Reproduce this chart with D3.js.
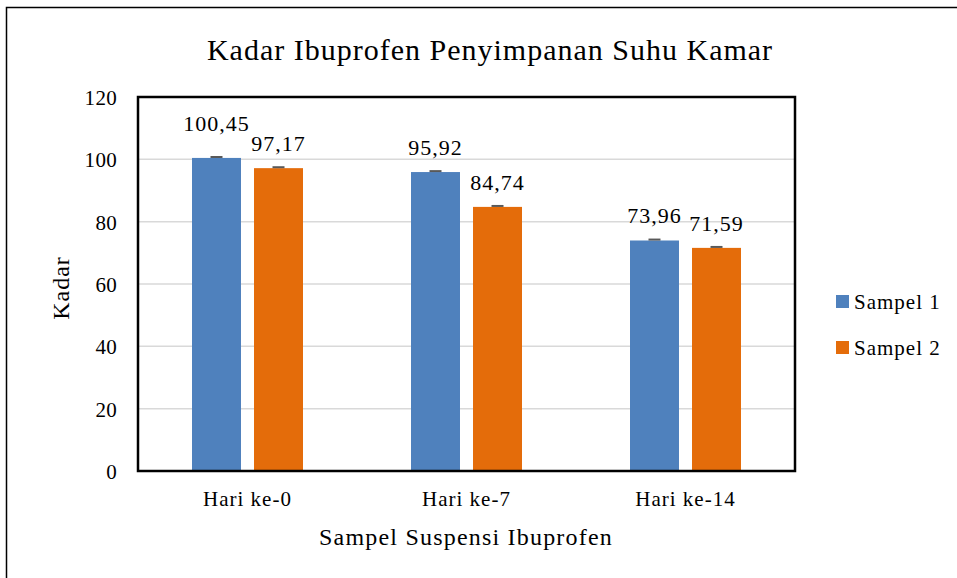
<!DOCTYPE html>
<html>
<head>
<meta charset="utf-8">
<script src="https://cdn.jsdelivr.net/npm/d3@7"></script>
<style>
  body { margin: 0; background: #fff; }
  text { font-family: "Liberation Serif", "Times New Roman", "DejaVu Serif", serif; fill: #000; }
</style>
</head>
<body>
<svg id="chart" width="957" height="578"></svg>
<script>
// data
const categories = ['Hari ke-0', 'Hari ke-7', 'Hari ke-14']
const seriesNames = ['Sampel 1', 'Sampel 2']
const sampel1 = [100.45, 95.92, 73.96]
const sampel2 = [97.17, 84.74, 71.59]
const err1 = [0.3, 0.3, 0.3]
const err2 = [0.3, 0.3, 0.3]
const yTicks = [0, 20, 40, 60, 80, 100, 120]
const colors = ['#4f81bd', '#e46c0a']

const svg = d3.select('#chart')

// outer frame
svg.append('rect')
  .attr('x', 6.5).attr('y', 7.5)
  .attr('width', 1000).attr('height', 1000)
  .attr('fill', 'none').attr('stroke', '#000').attr('stroke-width', 1.5)

const plot = { left: 138, top: 97, right: 795, bottom: 471 }

const x0 = d3.scaleBand().domain(categories).range([plot.left, plot.right])
const x1 = d3.scaleBand().domain(seriesNames).range([-55.5, 55.5]).paddingInner(0.21)
const y = d3.scaleLinear().domain([0, 120]).range([plot.bottom, plot.top])

// grid
svg.append('g')
  .selectAll('line')
  .data(yTicks.slice(1, -1))
  .join('line')
  .attr('x1', plot.left).attr('x2', plot.right)
  .attr('y1', d => y(d)).attr('y2', d => y(d))
  .attr('stroke', '#d9d9d9').attr('stroke-width', 1.5)

// y tick labels
svg.append('g')
  .selectAll('text')
  .data(yTicks)
  .join('text')
  .attr('x', 117)
  .attr('y', d => y(d) + 8)
  .attr('text-anchor', 'end')
  .attr('font-size', 21)
  .attr('letter-spacing', 0.3)
  .text(d => d)

// bars
const data = []
categories.forEach((c, i) => {
  data.push({ cat: c, s: seriesNames[0], v: sampel1[i], e: err1[i] })
  data.push({ cat: c, s: seriesNames[1], v: sampel2[i], e: err2[i] })
})
const cx = d => x0(d.cat) + x0.bandwidth() / 2 + x1(d.s)
const color = d3.scaleOrdinal().domain(seriesNames).range(colors)

svg.append('g')
  .selectAll('rect')
  .data(data)
  .join('rect')
  .attr('x', cx)
  .attr('y', d => y(d.v))
  .attr('width', x1.bandwidth())
  .attr('height', d => y(0) - y(d.v))
  .attr('fill', d => color(d.s))

// error bars
const eb = svg.append('g').attr('stroke', '#595959').attr('stroke-width', 2)
eb.selectAll('line.cap')
  .data(data)
  .join('line')
  .attr('class', 'cap')
  .attr('x1', d => cx(d) + x1.bandwidth() / 2 - 6)
  .attr('x2', d => cx(d) + x1.bandwidth() / 2 + 6)
  .attr('y1', d => y(d.v + d.e)).attr('y2', d => y(d.v + d.e))

// value labels
const labels = svg.append('g')
  .selectAll('text')
  .data(data)
  .join('text')
  .attr('x', d => cx(d) + x1.bandwidth() / 2)
  .attr('y', d => y(d.v) - 17)
  .attr('text-anchor', 'middle')
  .attr('font-size', 22)
  .attr('letter-spacing', 1)
  .text(d => d.v.toFixed(2).replace('.', ','))

// push the higher label up when two labels in a group nearly touch
labels.each(function (d) { d.box = this.getBBox() })
categories.forEach(c => {
  const [a, b] = data.filter(d => d.cat === c)
  const gap = b.box.x - (a.box.x + a.box.width)
  const ya = y(a.v) - 17, yb = y(b.v) - 17
  if (gap < 4 && Math.abs(ya - yb) < 20) {
    const hi = ya < yb ? a : b
    hi.shift = 20 - Math.abs(ya - yb)
  }
})
labels.attr('y', d => y(d.v) - 17 - (d.shift || 0))

// plot border
svg.append('rect')
  .attr('x', plot.left).attr('y', plot.top)
  .attr('width', plot.right - plot.left).attr('height', plot.bottom - plot.top)
  .attr('fill', 'none').attr('stroke', '#000').attr('stroke-width', 2.5)

// category labels
svg.append('g')
  .selectAll('text')
  .data(categories)
  .join('text')
  .attr('x', d => x0(d) + x0.bandwidth() / 2)
  .attr('y', 506)
  .attr('text-anchor', 'middle')
  .attr('font-size', 21)
  .attr('letter-spacing', 1)
  .text(d => d)

// titles
svg.append('text')
  .attr('x', 490).attr('y', 60)
  .attr('text-anchor', 'middle')
  .attr('font-size', 30)
  .attr('letter-spacing', 1)
  .text('Kadar Ibuprofen Penyimpanan Suhu Kamar')

svg.append('text')
  .attr('x', 466).attr('y', 545)
  .attr('text-anchor', 'middle')
  .attr('font-size', 24)
  .attr('letter-spacing', 1.2)
  .text('Sampel Suspensi Ibuprofen')

svg.append('text')
  .attr('transform', 'translate(69,288) rotate(-90)')
  .attr('text-anchor', 'middle')
  .attr('font-size', 24)
  .attr('letter-spacing', 1)
  .text('Kadar')

// legend
const legend = svg.append('g')
  .selectAll('g')
  .data(seriesNames)
  .join('g')
  .attr('transform', (d, i) => `translate(836, ${295 + i * 46})`)
legend.append('rect')
  .attr('width', 13).attr('height', 13)
  .attr('fill', d => color(d))
legend.append('text')
  .attr('x', 18).attr('y', 14)
  .attr('font-size', 21)
  .attr('letter-spacing', 1)
  .text(d => d)
</script>
</body>
</html>
